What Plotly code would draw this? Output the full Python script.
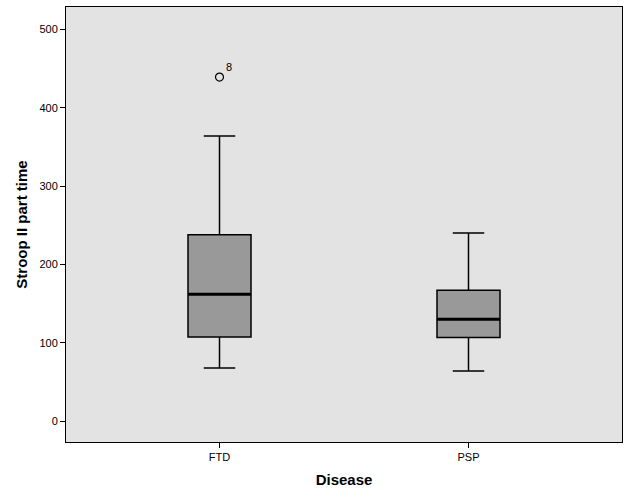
import plotly.graph_objects as go

categories = ["FTD", "PSP"]
lower_whisker = [68, 64]
q1 = [107.5, 107]
median = [162, 130]
q3 = [238, 167]
upper_whisker = [364, 240]
outlier_cat = [0]
outlier_val = [439]
outlier_label = ["8"]
y_ticks = [0, 100, 200, 300, 400, 500]

box_w = 0.253
xs = list(range(len(categories)))

fig = go.Figure()
fig.add_trace(go.Box(
    x=xs, q1=q1, median=median, q3=q3,
    lowerfence=lower_whisker, upperfence=upper_whisker,
    width=box_w, whiskerwidth=0.5,
    fillcolor="#999999", line=dict(color="#000000", width=1.5),
    boxpoints=False, showlegend=False, hoverinfo="skip",
))
# thick median lines
for i, m in zip(xs, median):
    fig.add_trace(go.Scatter(
        x=[i - box_w / 2, i + box_w / 2], y=[m, m], mode="lines",
        line=dict(color="#000000", width=3), showlegend=False, hoverinfo="skip",
    ))
fig.add_trace(go.Scatter(
    x=outlier_cat, y=outlier_val, mode="markers",
    marker=dict(symbol="circle-open", size=8, color="#000000", line=dict(width=1.2)),
    showlegend=False, hoverinfo="skip",
))
for xc, yv, lab in zip(outlier_cat, outlier_val, outlier_label):
    fig.add_annotation(x=xc, y=yv, text=lab, showarrow=False, xshift=9, yshift=10,
                       font=dict(family="Liberation Sans, Arial", size=11, color="#000000"))

fig.update_layout(
    width=629, height=504,
    margin=dict(l=66, r=7, t=7, b=62),
    paper_bgcolor="#ffffff", plot_bgcolor="#e3e3e3",
    font=dict(family="Liberation Sans, Arial", size=11, color="#000000"),
    xaxis=dict(
        range=[-0.6165, 1.6165], tickvals=xs, ticktext=categories,
        showgrid=False, zeroline=False, ticks="outside", ticklen=5, tickcolor="#000000",
        showline=True, linecolor="#000000", linewidth=1, mirror=True,
        title=dict(text="<b>Disease</b>", font=dict(size=15), standoff=12),
        automargin=False,
    ),
    yaxis=dict(
        range=[-26.4, 528.4], tickvals=y_ticks,
        showgrid=False, zeroline=False, ticks="outside", ticklen=5, tickcolor="#000000",
        showline=True, linecolor="#000000", linewidth=1, mirror=True,
        title=dict(text="<b>Stroop II part time</b>", font=dict(size=15), standoff=8),
        automargin=False,
    ),
)
fig.write_html("out.html",
               post_script="document.body.style.margin='0';document.body.style.overflow='hidden';")
